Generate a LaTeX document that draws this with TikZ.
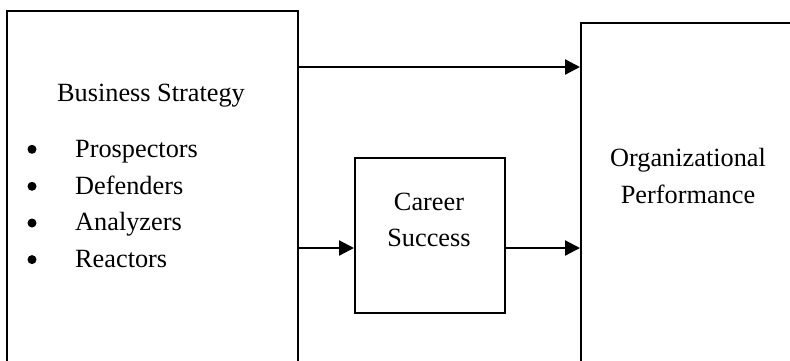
\documentclass[tikz,border=0pt]{standalone}
\usepackage{fontspec}
\setmainfont{Liberation Serif}
\usetikzlibrary{arrows.meta}
\begin{document}
\begin{tikzpicture}[x=1pt,y=-1pt,
  box/.style={draw=black, line width=2.2pt, fill=none, inner sep=0pt, anchor=north west},
  lbl/.style={inner sep=0pt, font=\fontsize{26.3}{36}\selectfont},
  dot/.style={circle, fill=black, inner sep=0pt, minimum size=9pt},
  arr/.style={line width=2.2pt, -{Triangle[length=15pt,width=15pt]}}]
\useasboundingbox (0,0) rectangle (790,360);
\clip (0,0) rectangle (790,360);
\node[box, minimum width=291pt, minimum height=420pt] (bs) at (6,10) {};
\node[box, minimum width=150pt, minimum height=155pt] (cs) at (354,157) {};
\node[box, minimum width=260pt, minimum height=420pt] (op) at (580,22) {};
% texts
\node[lbl, anchor=base] (bst) at (151,101.7) {Business Strategy};
\node[dot] (b1) at (32,149.3) {};
\node[dot] (b2) at (32,186.3) {};
\node[dot] (b3) at (32,223) {};
\node[dot] (b4) at (32,259.6) {};
\node[lbl, anchor=base west] (i1) at (75,157) {Prospectors};
\node[lbl, anchor=base west] (i2) at (75,194) {Defenders};
\node[lbl, anchor=base west] (i3) at (75,230.7) {Analyzers};
\node[lbl, anchor=base west] (i4) at (75,267.3) {Reactors};
\node[lbl, anchor=base] (c1) at (429,210.7) {Career};
\node[lbl, anchor=base] (c2) at (429,246.7) {Success};
\node[lbl, anchor=base] (o1) at (688,166.7) {Organizational};
\node[lbl, anchor=base] (o2) at (688,203.3) {Performance};
% connectors
\coordinate (ytop) at (0,67);
\coordinate (ymid) at (0,248);
\draw[arr] (bs.east |- ytop) -- (op.west |- ytop);
\draw[arr] (bs.east |- ymid) -- (cs.west |- ymid);
\draw[arr] (cs.east |- ymid) -- (op.west |- ymid);
\end{tikzpicture}
\end{document}
